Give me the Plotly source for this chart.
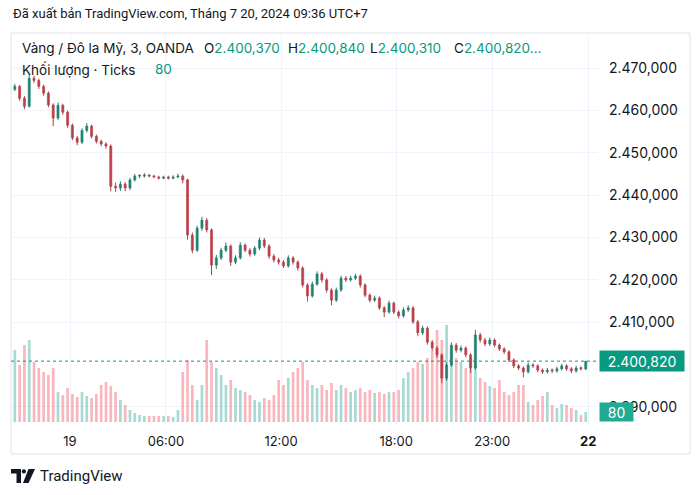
import numpy as np
import plotly.graph_objects as go

# ---------------- data ----------------
title_text = "Đã xuất bản TradingView.com, Tháng 7 20, 2024 09:36 UTC+7"
symbol_text = "Vàng / Đô la Mỹ, 3, OANDA"
ohlc_labels = ["O", "H", "L", "C"]
ohlc_values = ["2.400,370", "2.400,840", "2.400,310", "2.400,820..."]
volume_label = "Khối lượng · Ticks"
last_volume_text = "80"
last_price = 2400.82
last_volume = 80
last_price_text = "2.400,820"

tick_hours = [0, 5, 11, 17, 22, 27]
tick_labels = ["19", "06:00", "12:00", "18:00", "23:00", "<b>22</b>"]
price_ticks = [2390, 2410, 2420, 2430, 2440, 2450, 2460, 2470]

opens = [2465.0, 2465.7, 2462.9, 2461.0, 2467.6, 2467.1, 2465.7, 2464.1, 2461.3, 2458.2,
         2461.2, 2459.6, 2456.5, 2453.5, 2452.5, 2455.3, 2456.3, 2453.9, 2452.7, 2452.1,
         2451.6, 2442.1, 2441.7, 2442.6, 2441.7, 2443.6, 2444.5, 2444.5, 2444.7, 2444.5,
         2444.3, 2444.0, 2444.3, 2444.0, 2444.3, 2444.5, 2443.6, 2430.6, 2427.0, 2432.2,
         2434.1, 2431.8, 2423.5, 2425.2, 2427.0, 2428.0, 2424.2, 2425.2, 2428.2, 2427.0,
         2426.1, 2427.5, 2429.4, 2428.0, 2425.6, 2424.7, 2424.2, 2423.3, 2425.2, 2424.2,
         2422.8, 2418.8, 2416.2, 2419.0, 2421.4, 2420.0, 2417.6, 2415.2, 2417.6, 2420.4,
         2420.0, 2420.4, 2420.9, 2418.8, 2416.4, 2415.2, 2415.7, 2413.4, 2412.4, 2414.5,
         2412.4, 2411.5, 2412.9, 2413.4, 2410.1, 2407.5, 2408.6, 2405.3, 2403.9, 2402.3,
         2396.8, 2399.9, 2404.6, 2403.4, 2403.9, 2402.3, 2399.2, 2407.0, 2405.8, 2404.9,
         2405.8, 2404.6, 2403.7, 2403.0, 2401.1, 2399.7, 2399.2, 2398.3, 2399.9, 2399.7,
         2398.7, 2398.3, 2398.7, 2398.5, 2399.0, 2399.7, 2399.0, 2398.5, 2399.2, 2399.0]

highs = [2466.3, 2466.0, 2463.4, 2468.4, 2468.2, 2467.5, 2466.1, 2464.5, 2461.7, 2461.9,
         2461.6, 2460.0, 2456.9, 2454.0, 2455.8, 2457.0, 2456.7, 2454.3, 2453.1, 2452.5,
         2452.0, 2443.0, 2443.3, 2443.1, 2444.1, 2445.0, 2444.9, 2445.2, 2445.0, 2444.8,
         2444.6, 2444.6, 2444.6, 2444.7, 2445.1, 2444.9, 2443.9, 2431.2, 2432.8, 2434.9,
         2434.6, 2432.2, 2425.9, 2427.6, 2428.8, 2428.4, 2425.8, 2428.9, 2428.6, 2427.5,
         2428.0, 2430.0, 2429.9, 2428.4, 2426.1, 2425.2, 2424.7, 2425.8, 2425.6, 2424.6,
         2423.2, 2419.2, 2419.6, 2422.0, 2421.9, 2420.4, 2418.0, 2418.2, 2421.0, 2420.9,
         2421.0, 2421.4, 2421.3, 2419.2, 2416.8, 2416.3, 2416.1, 2413.8, 2415.1, 2414.9,
         2412.8, 2413.5, 2414.0, 2413.8, 2410.5, 2409.2, 2409.0, 2405.8, 2404.4, 2402.7,
         2400.5, 2405.2, 2405.1, 2404.5, 2404.3, 2402.7, 2408.2, 2407.5, 2406.3, 2406.4,
         2406.2, 2405.0, 2404.1, 2403.4, 2401.5, 2400.1, 2399.6, 2400.5, 2400.3, 2400.1,
         2399.1, 2399.2, 2399.1, 2399.5, 2400.2, 2400.1, 2399.4, 2399.7, 2399.6, 2400.84]

lows = [2464.6, 2462.3, 2460.3, 2460.7, 2466.5, 2465.1, 2463.5, 2460.8, 2456.3, 2457.8,
        2459.0, 2455.9, 2453.0, 2451.8, 2452.1, 2454.8, 2453.4, 2452.2, 2451.6, 2451.0,
        2440.9, 2440.8, 2441.0, 2440.9, 2441.2, 2443.2, 2444.0, 2444.2, 2444.2, 2444.0,
        2443.7, 2443.8, 2443.7, 2443.8, 2444.0, 2442.8, 2429.5, 2426.3, 2426.6, 2431.6,
        2431.2, 2421.1, 2422.6, 2424.7, 2426.5, 2423.3, 2423.7, 2424.8, 2426.5, 2425.5,
        2425.7, 2427.0, 2427.5, 2425.0, 2424.1, 2423.6, 2422.8, 2422.9, 2423.6, 2422.2,
        2418.2, 2414.9, 2415.8, 2418.6, 2419.4, 2417.0, 2414.0, 2414.8, 2417.2, 2419.5,
        2419.6, 2420.0, 2418.2, 2415.9, 2414.7, 2414.8, 2412.9, 2411.2, 2412.0, 2411.9,
        2410.9, 2411.1, 2412.5, 2409.6, 2406.7, 2407.0, 2404.7, 2403.3, 2401.6, 2395.6,
        2396.2, 2399.5, 2402.8, 2402.9, 2401.7, 2398.0, 2398.8, 2405.2, 2404.3, 2404.4,
        2404.1, 2403.2, 2402.5, 2400.6, 2399.2, 2398.7, 2397.0, 2397.9, 2399.2, 2398.2,
        2397.8, 2397.9, 2398.0, 2398.1, 2398.6, 2398.5, 2398.0, 2398.1, 2398.6, 2398.7]

closes = [2465.7, 2462.9, 2461.0, 2467.6, 2467.1, 2465.7, 2464.1, 2461.3, 2458.2, 2461.2,
          2459.6, 2456.5, 2453.5, 2452.5, 2455.3, 2456.3, 2453.9, 2452.7, 2452.1, 2451.6,
          2442.1, 2441.7, 2442.6, 2441.7, 2443.6, 2444.5, 2444.5, 2444.7, 2444.5, 2444.3,
          2444.0, 2444.3, 2444.0, 2444.3, 2444.5, 2443.6, 2430.6, 2427.0, 2432.2, 2434.1,
          2431.8, 2423.5, 2425.2, 2427.0, 2428.0, 2424.2, 2425.2, 2428.2, 2427.0, 2426.1,
          2427.5, 2429.4, 2428.0, 2425.6, 2424.7, 2424.2, 2423.3, 2425.2, 2424.2, 2422.8,
          2418.8, 2416.2, 2419.0, 2421.4, 2420.0, 2417.6, 2415.2, 2417.6, 2420.4, 2420.0,
          2420.4, 2420.9, 2418.8, 2416.4, 2415.2, 2415.7, 2413.4, 2412.4, 2414.5, 2412.4,
          2411.5, 2412.9, 2413.4, 2410.1, 2407.5, 2408.6, 2405.3, 2403.9, 2402.3, 2396.8,
          2399.9, 2404.6, 2403.4, 2403.9, 2402.3, 2399.2, 2407.0, 2405.8, 2404.9, 2405.8,
          2404.6, 2403.7, 2403.0, 2401.1, 2399.7, 2399.2, 2398.3, 2399.9, 2399.7, 2398.7,
          2398.3, 2398.7, 2398.5, 2399.0, 2399.7, 2399.0, 2398.5, 2399.2, 2399.0, 2400.82]

volumes = [576, 456, 616, 656, 480, 432, 400, 376, 432, 240,
           216, 272, 224, 200, 240, 208, 192, 224, 296, 320,
           288, 240, 176, 136, 96, 72, 56, 48, 48, 48,
           48, 48, 48, 40, 96, 400, 496, 296, 176, 296,
           656, 480, 432, 376, 296, 336, 272, 256, 240, 216,
           176, 160, 192, 176, 216, 336, 296, 352, 400, 432,
           480, 336, 296, 272, 296, 256, 312, 256, 296, 272,
           240, 256, 272, 240, 256, 232, 240, 224, 240, 240,
           256, 352, 400, 432, 480, 464, 512, 576, 736, 656,
           776, 560, 512, 480, 432, 512, 448, 352, 320, 288,
           272, 336, 240, 216, 240, 296, 296, 160, 136, 176,
           208, 240, 136, 112, 144, 136, 112, 96, 56, 80]

# bar positions in trading hours since 00:00 Jul 19 (15-minute bars)
bar_hours = -2.875 + 0.25 * np.arange(len(closes))

# ---------------- styling ----------------
UP = "#089981"
DOWN = "#f23645"
UP_WICK = "#2a7a6e"
DOWN_WICK = "#a8434b"
TEXT = "#131722"
GRID = "#f0f3fa"
FONT = "Inter, Roboto, Arial, sans-serif"

W, H = 700, 495
PL, PR, PT, PB = 11, 598, 33, 424


def px(x):
    return (x - PL) / (PR - PL)


def py(y):
    return (PB - y) / (PB - PT)


is_up = [c >= o for o, c in zip(opens, closes)]
vol_colors = ["rgba(8,153,129,0.36)" if u else "rgba(242,54,69,0.36)" for u in is_up]

fig = go.Figure()
# volume (base axis y, drawn beneath price)
fig.add_trace(go.Bar(x=bar_hours, y=volumes, marker_color=vol_colors,
                     marker_line_width=0, width=0.14, yaxis="y",
                     showlegend=False, hoverinfo="skip"))

# candle wicks
for flag, col in [(True, UP_WICK), (False, DOWN_WICK)]:
    wx, wy = [], []
    for t, h, l, u in zip(bar_hours, highs, lows, is_up):
        if u == flag:
            wx += [t, t, None]
            wy += [l, h, None]
    fig.add_trace(go.Scatter(x=wx, y=wy, mode="lines", yaxis="y2",
                             line=dict(color=col, width=1), showlegend=False,
                             hoverinfo="skip"))

# candle bodies
body_base = [min(o, c) for o, c in zip(opens, closes)]
body_len = [max(abs(c - o), 0.25) for o, c in zip(opens, closes)]
body_col = [UP if u else DOWN for u in is_up]
line_col = [UP_WICK if u else DOWN_WICK for u in is_up]
fig.add_trace(go.Bar(x=bar_hours, y=body_len, base=body_base, width=0.11, yaxis="y2",
                     marker=dict(color=body_col, line=dict(color=line_col, width=0.6)),
                     showlegend=False, hoverinfo="skip"))

# price px scale: 2470 at y=68.2, 2390 at y=407
ppx = (407.0 - 68.2) / 80.0
p_top = 2400 + (364.6 - PT) / ppx
p_bot = 2400 - (PB - 364.6) / ppx
vpx = 8.0  # ticks per pixel
v_bot = -(PB - 422) * vpx
v_top = (422 - PT) * vpx

fig.update_layout(
    width=W, height=H,
    margin=dict(l=PL, r=W - PR, t=PT, b=H - PB),
    paper_bgcolor="white", plot_bgcolor="white",
    separators=",.",
    font=dict(family=FONT, size=13, color=TEXT),
    showlegend=False,
    barmode="overlay",
    xaxis=dict(range=[(PL - 70) / 19.19, (PR - 70) / 19.19], tickvals=tick_hours,
               ticktext=tick_labels, showgrid=True, gridcolor=GRID, gridwidth=1,
               zeroline=False, showline=False, ticks="", ticklabelstandoff=8,
               tickfont=dict(size=13, color=TEXT), fixedrange=True),
    yaxis=dict(range=[v_bot, v_top], showgrid=False, showticklabels=False,
               zeroline=False, showline=False, fixedrange=True),
    yaxis2=dict(range=[p_bot, p_top], overlaying="y", side="right", anchor="x",
                tickvals=price_ticks, tickformat=",.3f", showgrid=True,
                gridcolor=GRID, gridwidth=1, zeroline=False, showline=False,
                ticks="", ticklabelstandoff=10,
                tickfont=dict(size=14, color=TEXT), fixedrange=True),
)

shapes = []
# outer panel border
shapes.append(dict(type="rect", xref="paper", yref="paper", x0=px(11), x1=px(690),
                   y0=py(454), y1=py(33), line=dict(color="#e0e3eb", width=1),
                   fillcolor="rgba(0,0,0,0)", layer="below"))
# last price dotted line
shapes.append(dict(type="line", xref="paper", yref="y2", x0=0, x1=1,
                   y0=last_price, y1=last_price,
                   line=dict(color=UP, width=1, dash="dot")))
# TradingView logo
shapes.append(dict(type="path", xref="paper", yref="paper",
                   path=f"M{px(11)},{py(469)} L{px(21)},{py(469)} L{px(21)},{py(483)} "
                        f"L{px(16.5)},{py(483)} L{px(16.5)},{py(473.5)} L{px(11)},{py(473.5)} Z",
                   fillcolor=TEXT, line=dict(width=0)))
shapes.append(dict(type="circle", xref="paper", yref="paper",
                   x0=px(21.8), x1=px(26), y0=py(473.5), y1=py(469.3),
                   fillcolor=TEXT, line=dict(width=0)))
shapes.append(dict(type="path", xref="paper", yref="paper",
                   path=f"M{px(28.5)},{py(469)} L{px(35)},{py(469)} L{px(28.5)},{py(483)} "
                        f"L{px(23)},{py(483)} Z",
                   fillcolor=TEXT, line=dict(width=0)))
fig.update_layout(shapes=shapes)

ann = []
ann.append(dict(text=title_text, x=px(11), y=py(13), xref="paper", yref="paper",
                xanchor="left", yanchor="middle", showarrow=False,
                font=dict(family="Roboto, Arial, sans-serif", size=13, color=TEXT)))
ann.append(dict(text=symbol_text, x=px(20), y=py(48), xref="paper", yref="paper",
                xanchor="left", yanchor="middle", showarrow=False,
                font=dict(size=13.5, color=TEXT)))
for lab, val, xx in zip(ohlc_labels, ohlc_values, [202, 286, 368, 452]):
    ann.append(dict(text=f"{lab}<span style='color:{UP}'>{val}</span>", x=px(xx), y=py(48),
                    xref="paper", yref="paper", xanchor="left", yanchor="middle",
                    showarrow=False, font=dict(size=13.5, color=TEXT)))
ann.append(dict(text=volume_label, x=px(20), y=py(69), xref="paper", yref="paper",
                xanchor="left", yanchor="middle", showarrow=False,
                font=dict(size=13.5, color=TEXT)))
ann.append(dict(text=last_volume_text, x=px(153), y=py(69), xref="paper", yref="paper",
                xanchor="left", yanchor="middle", showarrow=False,
                font=dict(size=13.5, color=UP)))
# last price label
ann.append(dict(text=last_price_text, x=px(599), y=last_price, xref="paper", yref="y2",
                xanchor="left", yanchor="middle", showarrow=False, bgcolor=UP,
                width=80, height=16, borderpad=2, font=dict(size=14, color="white")))
# last volume label
ann.append(dict(text=last_volume_text, x=px(599), y=last_volume, xref="paper", yref="y",
                xanchor="left", yanchor="middle", showarrow=False, bgcolor="#22ab94",
                width=29, height=14, borderpad=2, font=dict(size=14, color="white")))
# footer
ann.append(dict(text="TradingView", x=px(38), y=py(476), xref="paper", yref="paper",
                xanchor="left", yanchor="middle", showarrow=False,
                font=dict(family="Roboto, Arial, sans-serif", size=15, color=TEXT)))
fig.update_layout(annotations=ann)

fig.write_html("out.html", config={"displayModeBar": False},
               post_script="document.body.style.margin='0';")
